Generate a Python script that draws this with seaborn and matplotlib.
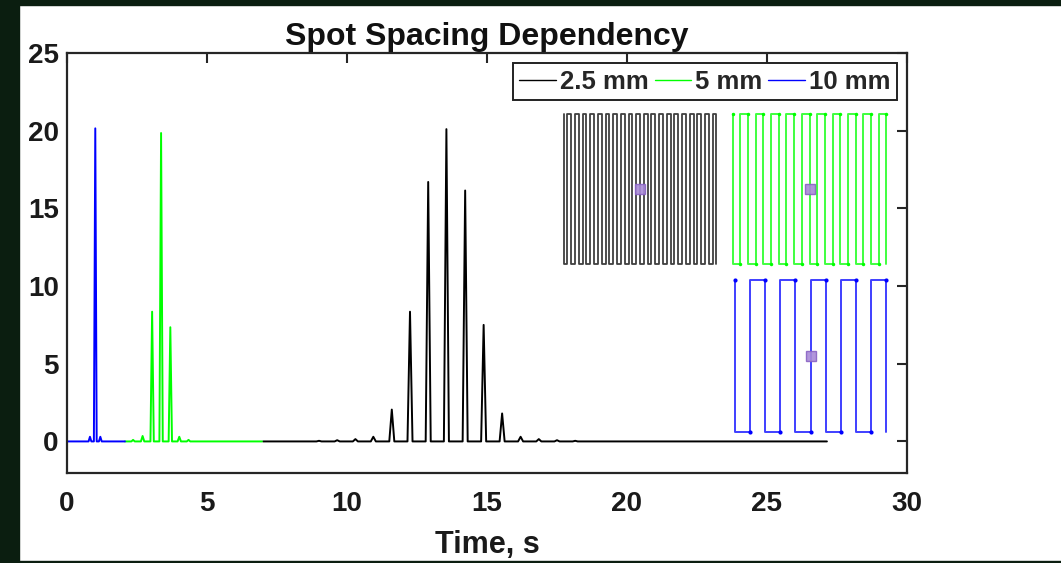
import numpy as np
import pandas as pd
import matplotlib
matplotlib.use("Agg")
import matplotlib.pyplot as plt
from matplotlib.patches import Rectangle
import seaborn as sns

# ---------------- data ----------------
series_labels = ["2.5 mm", "5 mm", "10 mm"]
series_colors = ["#000000", "#00ff00", "#0000ff"]

# baseline extent of each trace (s)
black_span = [7.0, 27.14]
green_span = [2.07, 6.96]
blue_span = [0.0, 2.07]

# peak times (s) and heights
black_peak_t = [9.0, 9.65, 10.3, 10.94, 11.60, 12.25, 12.90, 13.55, 14.22, 14.88, 15.54, 16.20, 16.85, 17.50, 18.15]
black_peak_h = [0.04, 0.08, 0.15, 0.30, 2.05, 8.35, 16.70, 20.10, 16.15, 7.50, 1.80, 0.30, 0.15, 0.08, 0.04]

green_peak_t = [2.36, 2.70, 3.04, 3.36, 3.69, 4.01, 4.34]
green_peak_h = [0.10, 0.35, 8.35, 19.85, 7.35, 0.30, 0.10]

blue_peak_t = [0.82, 1.01, 1.19]
blue_peak_h = [0.30, 20.15, 0.30]

# raster-scan insets: line spacing (mm) and scanned square size (mm)
scan_spacing = [2.5, 5.0, 10.0]
scan_size = 100.0
spot_center = [50.0, 50.0]

x_ticks = [0, 5, 10, 15, 20, 25, 30]
y_ticks = [0, 5, 10, 15, 20, 25]
title_text = "Spot Spacing Dependency"
xlabel_text = "Time, s"

# ---------------- styling ----------------
sns.set_theme(style="white")
plt.rcParams["font.family"] = ["Liberation Sans", "DejaVu Sans"]
plt.rcParams["font.weight"] = "bold"

W, H = 1061, 563
fig = plt.figure(figsize=(W / 100, H / 100), dpi=100, facecolor="white")

# dark frame around the screenshot
frame_col = "#0b1e10"
fig.patches.append(Rectangle((0, 0), 19 / W, 1, transform=fig.transFigure, color=frame_col, zorder=-5))
fig.patches.append(Rectangle((0, 1 - 5 / H), 1, 5 / H, transform=fig.transFigure, color=frame_col, zorder=-5))
fig.patches.append(Rectangle((0, 0), 1, 2 / H, transform=fig.transFigure, color=frame_col, zorder=-5))

ax = fig.add_axes([67 / W, (H - 472.5) / H, 840 / W, 419.5 / H])
ax.set_facecolor("white")


def build_trace(span, pt, ph, hw):
    t = [span[0]]
    v = [0.0]
    for tc, hc in zip(pt, ph):
        t += [tc - hw, tc, tc + hw]
        v += [0.0, hc, 0.0]
    t.append(span[1])
    v.append(0.0)
    return pd.DataFrame({"t": t, "v": v})


traces = [
    build_trace(black_span, black_peak_t, black_peak_h, 0.09),
    build_trace(green_span, green_peak_t, green_peak_h, 0.06),
    build_trace(blue_span, blue_peak_t, blue_peak_h, 0.05),
]

for df, lab, col in zip(traces, series_labels, series_colors):
    sns.lineplot(data=df, x="t", y="v", ax=ax, color=col, lw=1.4, label=lab,
                 sort=False, estimator=None)

ax.set_xlim(0, 30)
ax.set_ylim(-2, 25)
ax.set_xticks(x_ticks)
ax.set_yticks(y_ticks)
ax.set_xticklabels([str(v) for v in x_ticks], fontsize=20, fontweight="bold")
ax.set_yticklabels([str(v) for v in y_ticks], fontsize=20, fontweight="bold")
ax.tick_params(axis="both", direction="in", length=7.5, width=1.5, color="#262626",
               top=True, right=True, labelcolor="#1a1a1a")
ax.tick_params(axis="x", pad=13)
ax.tick_params(axis="y", pad=6)
for s in ax.spines.values():
    s.set_linewidth(1.6)
    s.set_color("#262626")
    s.set_visible(True)

ax.set_title(title_text, fontsize=23, fontweight="bold", pad=6, color="#111111")
ax.set_xlabel(xlabel_text, fontsize=22, fontweight="bold", labelpad=10, color="#1a1a1a")
ax.set_ylabel("")

leg = ax.legend(loc="upper right", ncol=3, fontsize=18.5, frameon=True, fancybox=False,
                framealpha=1, edgecolor="#222222", handlelength=1.43, handletextpad=0.14,
                columnspacing=0.24, borderpad=0.25, borderaxespad=0.4)
leg.get_frame().set_linewidth(1.4)
for line in leg.get_lines():
    line.set_linewidth(1.0)
for txt in leg.get_texts():
    txt.set_fontweight("bold")

# ---------------- raster-scan insets ----------------
inset_boxes = [
    [562 / W, (H - 266) / H, 156 / W, 154 / H],
    [731 / W, (H - 266) / H, 157 / W, 154 / H],
    [733 / W, (H - 434) / H, 155 / W, 156 / H],
]
inset_lw = [1.3, 1.4, 1.4]
dot_size = [0, 2.5, 3.0]

for box, sp, col, lw, ds in zip(inset_boxes, scan_spacing, series_colors, inset_lw, dot_size):
    iax = fig.add_axes(box)
    iax.set_axis_off()
    cols = np.arange(0.0, scan_size + sp / 2, sp)
    px, py, sx, sy = [], [], [], []
    for i, c in enumerate(cols):
        y0, y1 = (scan_size, 0.0) if i % 2 == 0 else (0.0, scan_size)
        px += [c, c]
        py += [y0, y1]
        sx.append(c)
        sy.append(y0)
    path = pd.DataFrame({"x": px, "y": py, "order": range(len(px))})
    sns.lineplot(data=path, x="x", y="y", ax=iax, color=col, lw=lw, alpha=0.75,
                 sort=False, estimator=None)
    if ds > 0:
        iax.plot(sx, sy, "o", color=col, ms=ds, mew=0)
    iax.plot([spot_center[0]], [spot_center[1]], "s", ms=6.5, mfc="#a98bd8",
             mec="#8a63c4", mew=1.0, alpha=0.9)
    iax.set_xlim(-1, scan_size + 1)
    iax.set_ylim(-1, scan_size + 1)
    if iax.get_legend() is not None:
        iax.get_legend().remove()

fig.savefig("out.png", dpi=100, facecolor="white")
